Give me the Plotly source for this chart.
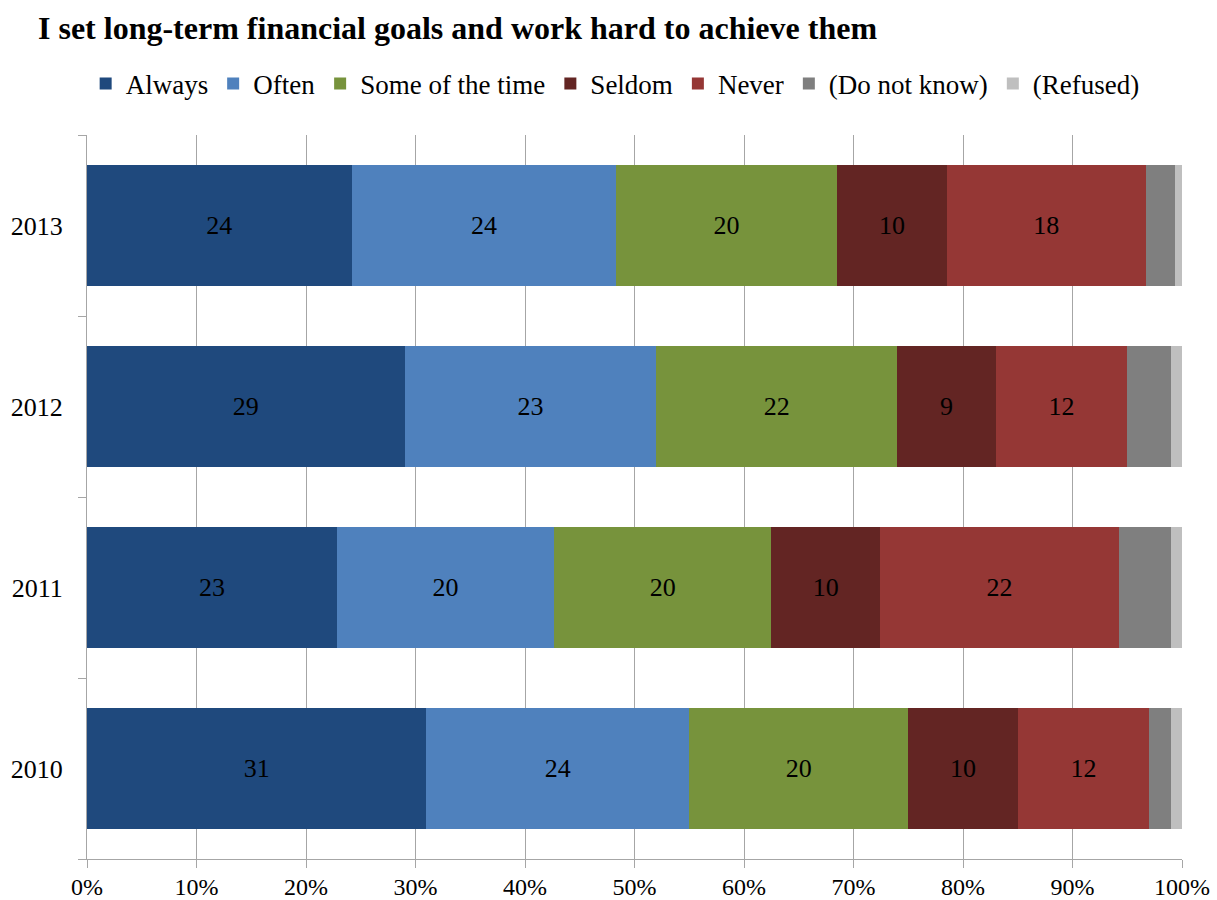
import plotly.graph_objects as go

# Survey years (bottom to top) and response shares per year
years = ["2010", "2011", "2012", "2013"]

always = [31, 23, 29, 24]
often = [24, 20, 23, 24]
some_of_the_time = [20, 20, 22, 20]
seldom = [10, 10, 9, 10]
never = [12, 22, 12, 18]
do_not_know = [2, 4.8, 4, 2.7]
refused = [1, 1, 1, 0.6]

series = [
    ("Always", always, "#1F497D", True),
    ("Often", often, "#4F81BD", True),
    ("Some of the time", some_of_the_time, "#77933C", True),
    ("Seldom", seldom, "#632523", True),
    ("Never", never, "#953735", True),
    ("(Do not know)", do_not_know, "#7F7F7F", False),
    ("(Refused)", refused, "#BFBFBF", False),
]

SERIF = "Liberation Serif, Times New Roman, serif"

fig = go.Figure()
for name, vals, color, labelled in series:
    fig.add_trace(go.Bar(
        y=years,
        x=vals,
        name=name,
        orientation="h",
        marker=dict(color=color, line=dict(width=0)),
        text=[f"{v:g}" for v in vals] if labelled else None,
        textposition="inside" if labelled else "none",
        insidetextanchor="middle",
        textfont=dict(family=SERIF, size=26, color="black"),
        textangle=0,
        constraintext="none",
    ))

fig.update_layout(
    width=1217,
    height=900,
    barmode="stack",
    barnorm="percent",
    bargap=0.33,
    plot_bgcolor="white",
    paper_bgcolor="white",
    margin=dict(l=87, r=35, t=135, b=41, autoexpand=False),
    font=dict(family=SERIF, size=26, color="black"),
    title=dict(
        text="<b>I set long-term financial goals and work hard to achieve them</b>",
        x=38 / 1217,
        xanchor="left",
        y=1 - 28 / 900,
        yanchor="middle",
        font=dict(family=SERIF, size=32, color="black"),
    ),
    legend=dict(
        orientation="h",
        x=587 / 1217,
        xanchor="center",
        y=1 - 84 / 900,
        yref="container",
        yanchor="middle",
        font=dict(family=SERIF, size=27, color="black"),
        traceorder="normal",
        itemwidth=30,
        tracegroupgap=0,
    ),
    showlegend=True,
)

fig.update_xaxes(
    range=[0, 100],
    dtick=10,
    ticksuffix="%",
    showgrid=True,
    gridcolor="#A6A6A6",
    gridwidth=1,
    showline=True,
    linecolor="#A6A6A6",
    linewidth=1,
    ticks="outside",
    ticklen=8,
    tickcolor="#A6A6A6",
    ticklabelstandoff=-2,
    zeroline=False,
    tickfont=dict(family=SERIF, size=24, color="black"),
)

fig.update_yaxes(
    type="category",
    categoryorder="array",
    categoryarray=years,
    showline=True,
    linecolor="#A6A6A6",
    linewidth=1,
    ticks="outside",
    tickson="boundaries",
    ticklen=8,
    tickcolor="#A6A6A6",
    ticklabelstandoff=18,
    showgrid=False,
    tickfont=dict(family=SERIF, size=26, color="black"),
)

fig.write_html("out.html")
